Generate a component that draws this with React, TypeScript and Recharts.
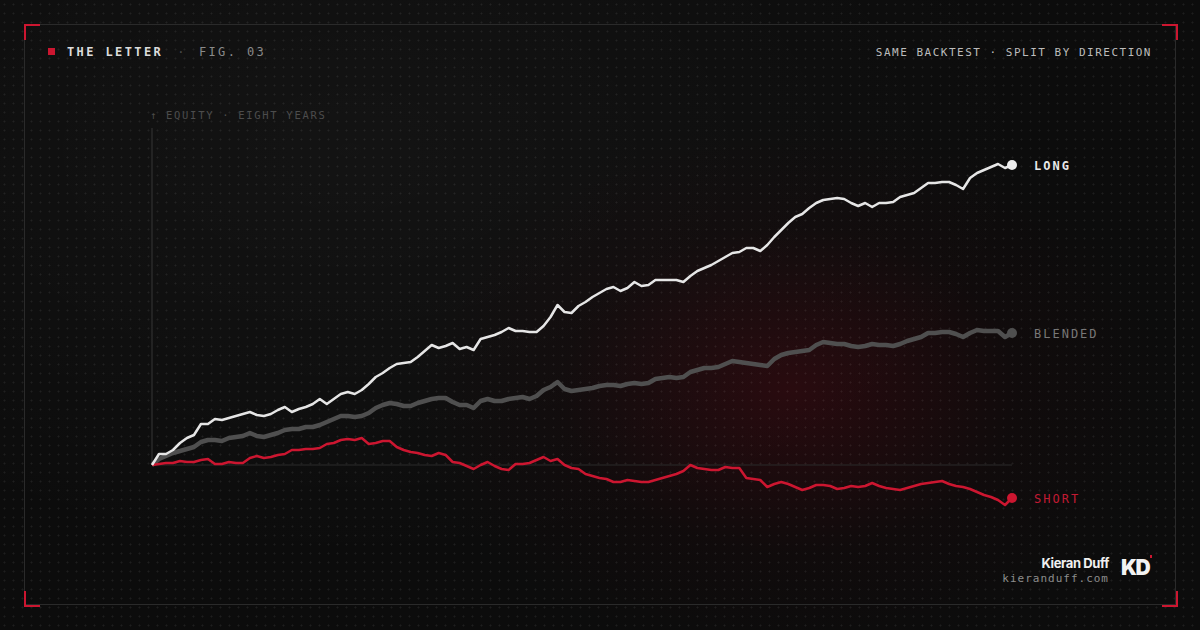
import React from 'react';
import { LineChart, Line, XAxis, YAxis, ReferenceLine } from 'recharts';

// equity curves, one reading per step across eight years (relative units, 0 = start)
const longEquity = [
  0, 11, 11, 15, 22, 27, 30, 41, 41, 46, 45, 47, 49, 51, 53, 50, 49, 51, 55, 58,
  53, 56, 58, 61, 66, 61, 66, 71, 73, 71, 75, 81, 88, 92, 97, 101, 102, 103, 108, 114,
  120, 117, 119, 122, 116, 118, 115, 126, 128, 130, 133, 137, 134, 134, 133, 133, 139, 148, 160, 153,
  152, 159, 163, 168, 172, 176, 178, 174, 177, 183, 179, 180, 185, 185, 185, 185, 183, 189, 194, 197,
  200, 204, 208, 212, 213, 217, 217, 214, 220, 228, 235, 242, 248, 251, 257, 262, 265, 266, 267, 266,
  262, 259, 262, 258, 262, 262, 263, 268, 270, 272, 277, 282, 282, 283, 283, 280, 276, 287, 292, 295,
  298, 301, 297, 300,
];
const blendedEquity = [
  0, 6, 9, 12, 14, 16, 18, 23, 25, 25, 24, 27, 28, 29, 32, 29, 28, 30, 32, 35,
  36, 36, 38, 38, 40, 43, 46, 49, 49, 48, 49, 52, 57, 60, 62, 61, 59, 59, 62, 64,
  66, 67, 67, 63, 60, 60, 57, 64, 66, 64, 64, 66, 67, 68, 66, 69, 75, 78, 83, 76,
  74, 75, 76, 77, 79, 80, 80, 79, 81, 82, 81, 82, 86, 87, 88, 87, 88, 93, 95, 97,
  97, 98, 101, 104, 103, 102, 101, 100, 99, 106, 110, 112, 113, 114, 115, 120, 123, 122, 121, 121,
  119, 118, 119, 121, 120, 120, 119, 121, 124, 126, 128, 132, 132, 133, 133, 131, 128, 132, 135, 134,
  134, 134, 128, 132,
];
const shortEquity = [
  0, 1, 2, 2, 4, 3, 3, 5, 6, 1, 1, 3, 2, 2, 7, 9, 7, 8, 10, 11,
  15, 15, 16, 16, 17, 21, 22, 25, 26, 25, 27, 21, 22, 24, 24, 18, 15, 13, 12, 10,
  9, 12, 10, 3, 2, -1, -4, 0, 3, -1, -4, -5, 1, 1, 2, 5, 8, 4, 6, 0,
  -3, -4, -9, -11, -13, -14, -17, -17, -15, -16, -17, -17, -15, -13, -11, -9, -6, 0, -3, -4,
  -5, -5, -2, -3, -3, -13, -14, -15, -22, -19, -17, -19, -22, -25, -23, -20, -20, -21, -24, -23,
  -21, -22, -21, -18, -21, -23, -24, -25, -23, -21, -19, -18, -17, -16, -19, -21, -22, -24, -27, -30,
  -32, -35, -40, -33,
];
const seriesNames = ['LONG', 'BLENDED', 'SHORT'];

const data = longEquity.map((v, i) => ({
  i,
  long: v,
  blended: blendedEquity[i],
  short: shortEquity[i],
}));

const MONO = "'DejaVu Sans Mono', 'Liberation Mono', monospace";
const RED = '#cc1630';

const endMarker = (fill: string, label: string, labelColor: string, bold: boolean) => (props: any) => {
  const { cx, cy, index } = props;
  if (index !== data.length - 1) return <g key={`d-${index}`} />;
  return (
    <g key={`d-${index}`}>
      <circle cx={cx} cy={cy} r={5} fill={fill} />
      <text
        x={cx + 22}
        y={cy + 4.5}
        fill={labelColor}
        fontFamily={MONO}
        fontSize={12}
        fontWeight={bold ? 700 : 400}
        letterSpacing={2}
      >
        {label}
      </text>
    </g>
  );
};

const Corner = ({ style }: { style: React.CSSProperties }) => (
  <div style={{ position: 'absolute', width: 14, height: 14, ...style }} />
);

const App: React.FC = () => {
  return (
    <div
      style={{
        position: 'relative',
        width: 1200,
        height: 630,
        overflow: 'hidden',
        background: '#0c0c0c',
      }}
    >
      <style>{'body{margin:0;background:#0c0c0c}'}</style>

      {/* glow + dotted texture */}
      <div
        style={{
          position: 'absolute',
          inset: 0,
          background:
            'radial-gradient(ellipse 380px 270px at 790px 390px, rgba(80,8,18,0.42), rgba(40,6,10,0.15) 60%, transparent 100%),' +
            'radial-gradient(ellipse 700px 420px at 350px 150px, rgba(255,255,255,0.03), transparent 100%)',
        }}
      />
      <div
        style={{
          position: 'absolute',
          inset: 0,
          backgroundImage: 'radial-gradient(rgba(255,255,255,0.075) 0.9px, transparent 1.1px)',
          backgroundSize: '9px 9px',
        }}
      />

      {/* frame */}
      <div style={{ position: 'absolute', left: 24, top: 24, width: 1152, height: 581, border: '1px solid #2a2a2a', boxSizing: 'border-box' }} />
      <Corner style={{ left: 24, top: 24, borderLeft: `2px solid ${RED}`, borderTop: `2px solid ${RED}` }} />
      <Corner style={{ left: 1162, top: 24, borderRight: `2px solid ${RED}`, borderTop: `2px solid ${RED}` }} />
      <Corner style={{ left: 24, top: 591, borderLeft: `2px solid ${RED}`, borderBottom: `2px solid ${RED}` }} />
      <Corner style={{ left: 1162, top: 591, borderRight: `2px solid ${RED}`, borderBottom: `2px solid ${RED}` }} />

      {/* header */}
      <div style={{ position: 'absolute', left: 48, top: 48, width: 7, height: 7, background: RED }} />
      <div style={{ position: 'absolute', left: 67, top: 44, fontFamily: MONO, fontSize: 12, lineHeight: '16px', letterSpacing: 2.4, whiteSpace: 'nowrap' }}>
        <span style={{ color: '#dcdcdc', fontWeight: 700 }}>THE LETTER</span>
        <span style={{ color: '#4a4a4a', margin: '0 12px 0 14px' }}>·</span>
        <span style={{ color: '#8a8a8a' }}>FIG. 03</span>
      </div>
      <div style={{ position: 'absolute', right: 48, top: 46, fontFamily: MONO, fontSize: 11, lineHeight: '14px', letterSpacing: 1.5, color: '#bcbcbc', whiteSpace: 'nowrap' }}>
        SAME BACKTEST · SPLIT BY DIRECTION
      </div>
      <div style={{ position: 'absolute', left: 150, top: 108, fontFamily: MONO, fontSize: 10.5, lineHeight: '14px', letterSpacing: 1.7, color: '#4c4c4c', whiteSpace: 'nowrap' }}>
        ↑ EQUITY · EIGHT YEARS
      </div>

      {/* chart */}
      <div style={{ position: 'absolute', left: 0, top: 0 }}>
        <LineChart width={1200} height={630} data={data} margin={{ top: 130, right: 188, bottom: 120, left: 152 }}>
          <XAxis dataKey="i" type="number" domain={[0, data.length - 1]} hide />
          <YAxis type="number" domain={[-45, 335]} hide allowDataOverflow />
          <ReferenceLine y={0} stroke="#2b2b2b" strokeWidth={1} />
          <ReferenceLine
            segment={[{ x: 0, y: 0 }, { x: 0, y: 337 }]}
            stroke="#2a2a2a"
            strokeWidth={1.5}
            ifOverflow="visible"
          />
          <Line
            dataKey="blended"
            stroke="#4f4f4f"
            strokeWidth={4.5}
            strokeLinejoin="round"
            type="linear"
            dot={endMarker('#4f4f4f', seriesNames[1], '#777777', false)}
            activeDot={false}
            isAnimationActive={false}
          />
          <Line
            dataKey="short"
            stroke={RED}
            strokeWidth={2.5}
            strokeLinejoin="round"
            type="linear"
            dot={endMarker(RED, seriesNames[2], '#c21a33', false)}
            activeDot={false}
            isAnimationActive={false}
          />
          <Line
            dataKey="long"
            stroke="#e6e6e6"
            strokeWidth={2.5}
            strokeLinejoin="round"
            type="linear"
            dot={endMarker('#eeeeee', seriesNames[0], '#e8e8e8', true)}
            activeDot={false}
            isAnimationActive={false}
          />
        </LineChart>
      </div>

      {/* signature */}
      <div style={{ position: 'absolute', right: 91, top: 555, fontFamily: "Inter, 'Noto Sans', sans-serif", fontWeight: 700, fontSize: 13, lineHeight: '16px', letterSpacing: -0.4, color: '#f0f0f0', whiteSpace: 'nowrap' }}>
        Kieran Duff
      </div>
      <div style={{ position: 'absolute', right: 91, top: 572, fontFamily: MONO, fontSize: 11, lineHeight: '14px', letterSpacing: 1, color: '#8c8c8c', whiteSpace: 'nowrap' }}>
        kieranduff.com
      </div>
      <div style={{ position: 'absolute', left: 1121, top: 556, fontFamily: "Inter, 'Noto Sans', sans-serif", fontWeight: 900, fontSize: 21, lineHeight: '24px', letterSpacing: -1.5, color: '#f2f2f2' }}>
        KD
      </div>
      <div style={{ position: 'absolute', left: 1150, top: 555, width: 2, height: 3, background: RED }} />
    </div>
  );
};

export default App;
